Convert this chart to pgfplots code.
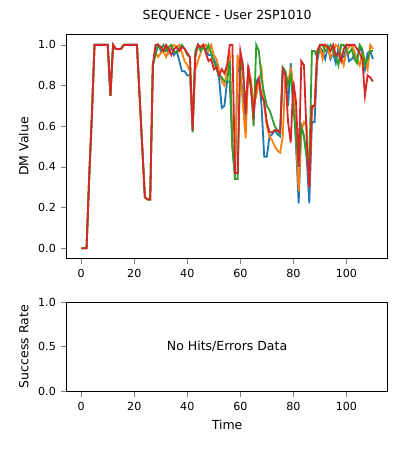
\documentclass[border=0pt]{standalone}
\usepackage{pgfplots}
\pgfplotsset{compat=1.18}
\usepackage{fontspec}
\setmainfont{DejaVu Sans}
\definecolor{c0}{HTML}{1F77B4}
\definecolor{c1}{HTML}{FF7F0E}
\definecolor{c2}{HTML}{2CA02C}
\definecolor{c3}{HTML}{D62728}
\begin{document}
\begin{tikzpicture}
\useasboundingbox (0,0) rectangle (288pt,324pt);
\pgfplotsset{every axis/.append style={scale only axis, width=231pt,
 /pgf/number format/assume math mode=true, tick label style={font=\footnotesize},
 label style={font=\small}, xmin=-5.5, xmax=115.5, xtick={0,20,...,100},
 tick align=outside, xtick pos=left, ytick pos=left, axis line style={line width=0.6pt}}}
\begin{axis}[at={(48pt,138pt)}, anchor=south west, height=161pt,
 ymin=-0.05, ymax=1.05, ytick={0,0.2,...,1.0}, yticklabel style={/pgf/number format/fixed,/pgf/number format/fixed zerofill,/pgf/number format/precision=1},
 ylabel={DM Value}, title={SEQUENCE - User 2SP1010}, title style={font=\small},
 every axis plot/.append style={line width=1.3pt, no marks}]
\addplot[c0] coordinates {(0,0)(1,0)(2,0)(3,0.35)(4,0.65)(5,1)(6,1)(7,1)(8,1)(9,1)(10,1)(11,0.75)(12,1)(13,0.98)(14,0.98)(15,0.98)(16,1)(17,1)(18,1)(19,1)(20,1)(21,1)(22,0.75)(23,0.5)(24,0.25)(25,0.24)(26,0.24)(27,0.9)(28,0.97)(29,1)(30,0.97)(31,0.97)(32,0.99)(33,0.96)(34,0.99)(35,0.95)(36,0.97)(37,0.92)(38,0.87)(39,0.87)(40,0.85)(41,0.85)(42,0.58)(43,0.95)(44,1)(45,0.98)(46,1)(47,0.97)(48,0.95)(49,0.95)(50,0.93)(51,0.9)(52,0.83)(53,0.69)(54,0.7)(55,0.82)(56,0.82)(57,0.5)(58,0.35)(59,0.92)(60,0.85)(61,0.75)(62,0.6)(63,0.88)(64,0.8)(65,0.65)(66,0.82)(67,0.84)(68,0.7)(69,0.45)(70,0.45)(71,0.55)(72,0.56)(73,0.58)(74,0.56)(75,0.55)(76,0.87)(77,0.86)(78,0.7)(79,0.91)(80,0.75)(81,0.5)(82,0.22)(83,0.6)(84,0.55)(85,0.45)(86,0.22)(87,0.62)(88,0.62)(89,0.92)(90,0.99)(91,0.97)(92,0.93)(93,0.99)(94,0.93)(95,0.96)(96,0.91)(97,0.99)(98,0.94)(99,0.94)(100,0.99)(101,0.92)(102,0.93)(103,0.95)(104,0.92)(105,0.99)(106,0.96)(107,0.88)(108,0.96)(109,0.97)(110,0.93)};
\addplot[c1] coordinates {(0,0)(1,0)(2,0)(3,0.35)(4,0.65)(5,1)(6,1)(7,1)(8,1)(9,1)(10,1)(11,0.75)(12,1)(13,0.98)(14,0.98)(15,0.98)(16,1)(17,1)(18,1)(19,1)(20,1)(21,1)(22,0.75)(23,0.5)(24,0.25)(25,0.24)(26,0.24)(27,0.9)(28,0.96)(29,0.94)(30,0.96)(31,0.97)(32,0.94)(33,0.97)(34,0.99)(35,1)(36,0.99)(37,1)(38,0.96)(39,0.92)(40,0.9)(41,0.87)(42,0.6)(43,0.88)(44,0.92)(45,0.96)(46,1)(47,1)(48,0.97)(49,1)(50,0.95)(51,0.93)(52,0.88)(53,0.82)(54,0.8)(55,0.88)(56,0.97)(57,0.5)(58,0.38)(59,0.95)(60,0.87)(61,0.7)(62,0.54)(63,0.88)(64,0.83)(65,0.7)(66,0.75)(67,0.82)(68,0.88)(69,0.7)(70,0.6)(71,0.55)(72,0.53)(73,0.5)(74,0.48)(75,0.47)(76,0.55)(77,0.86)(78,0.82)(79,0.88)(80,0.8)(81,0.55)(82,0.28)(83,0.58)(84,0.62)(85,0.6)(86,0.3)(87,0.68)(88,0.7)(89,0.97)(90,0.99)(91,0.93)(92,1)(93,0.98)(94,0.94)(95,0.96)(96,1)(97,0.99)(98,0.95)(99,0.9)(100,0.97)(101,0.99)(102,1)(103,0.97)(104,0.93)(105,0.9)(106,0.96)(107,0.93)(108,0.88)(109,1)(110,0.98)};
\addplot[c2] coordinates {(0,0)(1,0)(2,0)(3,0.35)(4,0.65)(5,1)(6,1)(7,1)(8,1)(9,1)(10,1)(11,0.75)(12,1)(13,0.98)(14,0.98)(15,0.98)(16,1)(17,1)(18,1)(19,1)(20,1)(21,1)(22,0.75)(23,0.5)(24,0.25)(25,0.24)(26,0.24)(27,0.9)(28,0.95)(29,1)(30,0.98)(31,1)(32,0.97)(33,0.99)(34,1)(35,0.97)(36,0.96)(37,0.98)(38,1)(39,0.98)(40,0.95)(41,0.94)(42,0.57)(43,0.97)(44,1)(45,0.97)(46,0.99)(47,0.97)(48,1)(49,0.96)(50,0.92)(51,0.88)(52,0.85)(53,0.84)(54,0.82)(55,0.82)(56,0.92)(57,0.5)(58,0.34)(59,0.34)(60,0.94)(61,0.85)(62,0.7)(63,0.86)(64,0.8)(65,0.6)(66,1)(67,0.97)(68,0.83)(69,0.76)(70,0.7)(71,0.68)(72,0.64)(73,0.6)(74,0.58)(75,0.56)(76,0.89)(77,0.87)(78,0.8)(79,0.85)(80,0.7)(81,0.55)(82,0.4)(83,0.6)(84,0.55)(85,0.45)(86,0.4)(87,0.97)(88,0.97)(89,0.94)(90,1)(91,1)(92,0.97)(93,0.98)(94,1)(95,0.97)(96,0.94)(97,0.9)(98,1)(99,1)(100,0.97)(101,0.96)(102,0.98)(103,0.93)(104,0.91)(105,1)(106,0.98)(107,0.9)(108,0.93)(109,0.97)(110,0.97)};
\addplot[c3] coordinates {(0,0)(1,0)(2,0)(3,0.35)(4,0.65)(5,1)(6,1)(7,1)(8,1)(9,1)(10,1)(11,0.75)(12,1)(13,0.98)(14,0.98)(15,0.98)(16,1)(17,1)(18,1)(19,1)(20,1)(21,1)(22,0.75)(23,0.5)(24,0.25)(25,0.24)(26,0.24)(27,0.9)(28,1)(29,1)(30,0.99)(31,0.97)(32,1)(33,0.98)(34,0.95)(35,0.98)(36,0.99)(37,0.97)(38,0.99)(39,0.98)(40,0.96)(41,0.94)(42,0.58)(43,0.94)(44,1)(45,0.99)(46,1)(47,0.96)(48,0.92)(49,0.93)(50,0.88)(51,0.89)(52,0.85)(53,0.88)(54,0.86)(55,0.9)(56,1)(57,1)(58,0.37)(59,0.37)(60,0.97)(61,0.9)(62,0.66)(63,0.9)(64,0.78)(65,0.66)(66,0.8)(67,0.83)(68,0.75)(69,0.72)(70,0.62)(71,0.57)(72,0.57)(73,0.58)(74,0.58)(75,0.57)(76,0.88)(77,0.85)(78,0.62)(79,0.52)(80,0.82)(81,0.72)(82,0.4)(83,0.92)(84,0.9)(85,0.55)(86,0.3)(87,0.7)(88,0.7)(89,0.97)(90,1)(91,1)(92,1)(93,0.99)(94,0.97)(95,1)(96,0.95)(97,0.96)(98,0.92)(99,0.98)(100,1)(101,1)(102,1)(103,1)(104,0.98)(105,0.96)(106,0.93)(107,0.75)(108,0.85)(109,0.84)(110,0.82)};
\end{axis}
\begin{axis}[at={(48pt,42.5pt)}, anchor=south west, height=64pt,
 ymin=0, ymax=1, ytick={0,0.5,1}, yticklabel style={/pgf/number format/fixed,/pgf/number format/fixed zerofill,/pgf/number format/precision=1},
 ylabel={Success Rate}, xlabel={Time}]
\node[font=\small] at (axis cs:55,0.5) {No Hits/Errors Data};
\end{axis}
\end{tikzpicture}
\end{document}
